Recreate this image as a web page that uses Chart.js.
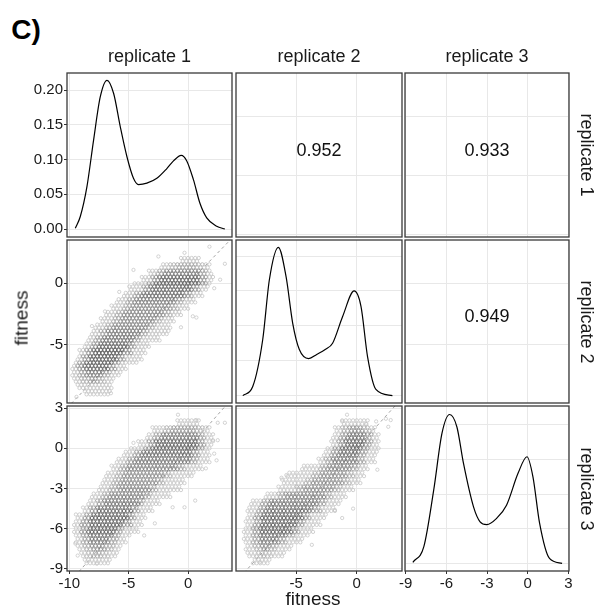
<!DOCTYPE html>
<html>
<head>
<meta charset="utf-8">
<script src="https://cdn.jsdelivr.net/npm/chart.js"></script>
<style>
  body { margin: 0; background: #fff; }
  #wrap { position: relative; width: 596px; height: 608px; overflow: hidden;
          font-family: "Liberation Sans", Arial, sans-serif; }
  #wrap canvas { position: absolute; }
  .lbl { position: absolute; color: #1a1a1a; white-space: nowrap; line-height: 1.2;
         transform: translate(-50%, -50%); }
</style>
</head>
<body>
<div id="wrap"></div>
<script>
// ---- data ----
var varNames = ['replicate 1', 'replicate 2', 'replicate 3'];
var corrLabels = { '0,1': '0.952', '0,2': '0.933', '1,2': '0.949' };

// axis ranges per variable (x direction for columns, y direction for rows)
var colRange = [[-10.2, 3.7], [-9.95, 3.73], [-9.05, 3.05]];
var rowRange = [[-10.2, 3.7], [-9.8, 3.55], [-9.15, 3.15]];
var densRange = [[-0.0115, 0.2245], [-0.0106, 0.2230], [-0.0111, 0.2273]];
var varTicks = [[-10, -5, 0], [-10, -5, 0], [-9, -6, -3, 0, 3]];
var densTicks = [0, 0.05, 0.10, 0.15, 0.20];

// density curves (x, density)
var dens1X = [-9.5, -9.08, -8.52, -7.96, -7.4, -6.83, -6.27, -5.71, -5.15, -4.6, -4.18, -3.47, -2.63, -1.79, -1.23, -0.58, -0.11, 0.45, 1.0, 1.57, 2.41, 3.1];
var dens1Y = [0.001, 0.018, 0.061, 0.128, 0.190, 0.214, 0.195, 0.147, 0.104, 0.073, 0.064, 0.066, 0.073, 0.087, 0.098, 0.106, 0.098, 0.071, 0.037, 0.016, 0.004, 0.0];
var dens2X = [-9.39, -8.57, -7.75, -7.2, -6.46, -5.82, -5.28, -4.73, -3.96, -3.3, -2.6, -1.99, -1.17, -0.21, 0.35, 0.89, 1.58, 2.94];
var dens2Y = [0.0, 0.013, 0.080, 0.166, 0.2124, 0.170, 0.104, 0.066, 0.053, 0.059, 0.066, 0.075, 0.113, 0.150, 0.128, 0.056, 0.009, 0.0];
var dens3X = [-8.47, -7.66, -6.93, -6.32, -5.76, -5.22, -4.73, -4.0, -3.51, -3.02, -2.29, -1.56, -0.71, -0.05, 0.39, 0.88, 1.61, 2.54];
var dens3Y = [0.0015, 0.024, 0.106, 0.188, 0.215, 0.197, 0.144, 0.082, 0.060, 0.056, 0.065, 0.084, 0.130, 0.154, 0.125, 0.058, 0.007, 0.0];

// hexbin clouds: [y, outerLeft, coreLeft, coreRight, outerRight, coreShade]
var bandA = [ // x = replicate 1, y = replicate 2
  [2.0, -0.6, null, null, 0.9, 0], [1.5, -2.3, -1.5, 1.2, 1.8, 0.4], [1.0, -3.3, -2.6, 1.5, 2.0, 0.7],
  [0.5, -3.9, -3.0, 1.6, 2.2, 0.9], [0.0, -4.6, -3.3, 1.5, 2.0, 1.0], [-0.5, -5.0, -3.8, 1.0, 1.7, 0.9],
  [-1.0, -5.5, -4.6, 0.4, 1.3, 0.8], [-1.5, -6.0, -5.2, -0.4, 0.6, 0.7], [-2.0, -6.5, -5.5, -0.8, 0.0, 0.6],
  [-2.5, -7.0, -6.0, -1.5, -0.6, 0.6], [-3.0, -7.4, -6.4, -2.2, -1.2, 0.6], [-3.5, -7.8, -6.9, -2.8, -1.5, 0.65],
  [-4.0, -8.2, -7.4, -3.4, -1.6, 0.7], [-4.5, -8.5, -7.8, -4.0, -2.4, 0.8], [-5.0, -8.8, -8.2, -4.4, -3.2, 0.9],
  [-5.5, -9.2, -8.6, -4.8, -3.6, 1.0], [-6.0, -9.4, -8.9, -5.3, -3.8, 1.0], [-6.5, -9.7, -9.2, -5.7, -4.3, 1.0],
  [-7.0, -9.8, -9.3, -6.1, -5.2, 0.9], [-7.5, -9.8, -9.2, -6.5, -5.7, 0.7], [-8.0, -9.7, -9.0, -6.9, -6.3, 0.5],
  [-8.5, -9.3, null, null, -6.4, 0], [-9.0, -8.8, null, null, -6.6, 0]
];
var bandB = [ // x = replicate 1, y = replicate 3
  [2.0, -1.0, null, null, 1.0, 0], [1.5, -3.0, -2.0, 1.2, 1.8, 0.5], [1.0, -3.5, -2.9, 1.4, 2.1, 0.8],
  [0.5, -4.2, -3.4, 1.4, 2.1, 1.0], [0.0, -4.8, -3.8, 1.3, 2.0, 1.0], [-0.5, -5.4, -4.6, 1.0, 1.9, 0.9],
  [-1.0, -6.0, -5.2, 0.8, 1.8, 0.8], [-1.5, -6.5, -5.7, -0.2, 1.2, 0.7], [-2.0, -7.0, -6.0, -1.5, 0.5, 0.6],
  [-2.5, -7.3, -6.4, -2.0, -0.3, 0.6], [-3.0, -7.6, -6.6, -2.6, -0.6, 0.65], [-3.5, -8.1, -7.3, -3.1, -1.5, 0.7],
  [-4.0, -8.5, -7.7, -3.6, -2.3, 0.8], [-4.5, -8.9, -8.3, -4.1, -3.0, 0.9], [-5.0, -9.5, -8.8, -4.4, -3.6, 1.0],
  [-5.5, -9.7, -9.0, -4.8, -3.9, 1.0], [-6.0, -9.7, -9.1, -5.4, -4.1, 1.0], [-6.5, -9.6, -9.0, -5.8, -4.8, 0.9],
  [-7.0, -9.5, -8.9, -6.0, -5.2, 0.8], [-7.5, -9.3, -8.8, -6.3, -5.7, 0.6], [-8.0, -9.1, -8.6, -6.7, -6.0, 0.4],
  [-8.5, -8.8, null, null, -6.5, 0]
];
var bandC = [ // x = replicate 2, y = replicate 3
  [2.0, -1.2, null, null, 1.0, 0], [1.5, -1.8, -1.2, 1.1, 1.6, 0.6], [1.0, -2.0, -1.4, 1.3, 1.8, 0.9],
  [0.5, -2.2, -1.6, 1.2, 1.9, 1.0], [0.0, -2.4, -1.8, 1.0, 1.9, 1.0], [-0.5, -2.8, -2.2, 0.8, 1.7, 0.9],
  [-1.0, -3.2, -2.6, 0.6, 1.5, 0.8], [-1.5, -4.5, -3.0, 0.2, 1.0, 0.7], [-2.0, -5.8, -3.6, -0.2, 0.6, 0.6],
  [-2.5, -6.2, -4.3, -0.6, 0.3, 0.6], [-3.0, -6.5, -5.0, -1.3, -0.3, 0.6], [-3.5, -7.6, -6.5, -2.0, -0.8, 0.7],
  [-4.0, -8.8, -7.8, -2.5, -1.3, 0.8], [-4.5, -9.0, -8.2, -3.0, -1.8, 0.9], [-5.0, -9.1, -8.4, -3.8, -2.5, 1.0],
  [-5.5, -9.2, -8.5, -4.3, -3.0, 1.0], [-6.0, -9.3, -8.6, -4.7, -3.5, 1.0], [-6.5, -9.4, -8.6, -5.2, -4.0, 0.9],
  [-7.0, -9.4, -8.6, -5.8, -4.4, 0.8], [-7.5, -9.2, -8.5, -6.5, -5.3, 0.6], [-8.0, -9.0, -8.3, -7.0, -6.0, 0.4],
  [-8.5, -8.6, null, null, -7.2, 0]
];
var outA = [[-2.5, 2.2], [-0.3, 2.5], [1.8, 3.0], [3.1, 1.6], [2.7, 0.3], [2.2, -0.4], [-4.6, 1.1], [-5.8, -0.7],
            [-8.1, -3.5], [-7.0, -2.3], [0.4, -2.7], [0.7, -2.8], [-0.6, -3.6], [-6.5, -9.0], [-9.4, -9.3]];
var outB = [[-0.85, 2.5], [0.7, 2.1], [2.5, 1.9], [3.1, 1.9], [2.5, 0.6], [2.1, 0.6], [2.2, -0.4], [2.4, -0.9],
            [1.5, -1.5], [0.6, -3.9], [-0.3, -4.4], [-1.3, -4.4], [-2.8, -5.6], [-3.7, -6.5], [-9.5, -7.1],
            [-9.3, -8.0], [-7.7, -8.6], [-4.6, 0.4]];
var outC = [[-0.8, 2.5], [-1.2, 2.0], [0.8, 1.8], [1.6, 2.0], [2.4, 2.2], [2.8, 2.1], [2.6, 1.6], [1.7, -1.6],
            [-0.3, -4.5], [-1.2, -5.2], [-1.8, -4.6], [-3.7, -7.2], [-8.0, -8.5], [-5.8, -2.0], [-6.2, -2.2]];

(function() {
  // ---- layout ----
  var PL = [67, 236, 405], PR = [232, 402, 569];
  var PT = [73, 240, 406], PB = [237, 403, 571];
  var M = 12;
  var HEX = 0.3;

  Chart.defaults.font.family = '"Liberation Sans", Arial, sans-serif';
  Chart.defaults.font.size = 15;
  Chart.defaults.color = '#1a1a1a';

  var panelBox = {
    id: 'panelBox',
    afterDraw: function(chart, args, opts) {
      var a = chart.chartArea, ctx = chart.ctx;
      ctx.save();
      if (opts.text) {
        ctx.fillStyle = '#111';
        ctx.font = '18px "Liberation Sans", Arial, sans-serif';
        ctx.textAlign = 'center';
        ctx.textBaseline = 'middle';
        ctx.fillText(opts.text, (a.left + a.right) / 2, (a.top + a.bottom) / 2 - 4);
      }
      ctx.strokeStyle = '#3a3a3a';
      ctx.lineWidth = 1.3;
      ctx.strokeRect(a.left, a.top, a.right - a.left, a.bottom - a.top);
      ctx.restore();
    }
  };

  function shadeOf(lvl) {
    var g = Math.round(200 - lvl * 140);
    return 'rgb(' + g + ',' + g + ',' + g + ')';
  }

  function hexPoints(band, outliers) {
    var dy = HEX * Math.sqrt(3) / 2;
    var pts = [];
    var ymax = band[0][0] + 0.25, ymin = band[band.length - 1][0] - 0.25;
    for (var j = Math.ceil(ymin / dy); j <= Math.floor(ymax / dy); j++) {
      var y = j * dy;
      var row = band[0];
      band.forEach(function(b) { if (Math.abs(b[0] - y) < Math.abs(row[0] - y)) row = b; });
      var off = (Math.abs(j) % 2) ? HEX / 2 : 0;
      for (var k = Math.ceil((row[1] - off) / HEX); k <= Math.floor((row[4] - off) / HEX); k++) {
        var x = k * HEX + off;
        var s = 0.08;
        if (row[2] !== null && x >= row[2] && x <= row[3]) {
          // bins next to the core edge get a middle shade
          var edge = Math.min(x - row[2], row[3] - x);
          s = edge < 2 * HEX ? (row[5] + 0.08) / 2 : row[5];
        }
        pts.push({ x: x, y: y, s: s });
      }
    }
    outliers.forEach(function(p) { pts.push({ x: p[0], y: p[1], s: 0.05 }); });
    return pts;
  }

  function pairs(xs, ys) {
    return xs.map(function(x, i) { return { x: x, y: ys[i] }; });
  }

  function axis(range, ticks, isDens, showTicks, size, horizontal) {
    return {
      type: 'linear',
      min: range[0], max: range[1],
      afterBuildTicks: function(s) {
        s.ticks = ticks.filter(function(v) { return v >= s.min && v <= s.max; })
                       .map(function(v) { return { value: v }; });
      },
      afterFit: function(s) {
        if (horizontal) s.height = size; else s.width = size;
        s.paddingLeft = 0; s.paddingRight = 0; s.paddingTop = 0; s.paddingBottom = 0;
      },
      grid: { color: '#e8e8e8', lineWidth: 1, drawTicks: showTicks, tickLength: 3, tickColor: '#333' },
      border: { display: false },
      ticks: {
        display: showTicks, padding: 1, autoSkip: false, maxRotation: 0,
        color: '#1a1a1a', font: { size: 15 },
        callback: function(v) { return isDens ? v.toFixed(2) : String(v); }
      }
    };
  }

  var wrap = document.getElementById('wrap');
  var bands = { '1,0': [bandA, outA], '2,0': [bandB, outB], '2,1': [bandC, outC] };
  var densSets = [pairs(dens1X, dens1Y), pairs(dens2X, dens2Y), pairs(dens3X, dens3Y)];

  for (var r = 0; r < 3; r++) {
    for (var c = 0; c < 3; c++) {
      var cLeft = c === 0 ? 0 : PL[c] - M;
      var cTop = PT[r] - M;
      var cRight = PR[c] + M;
      var cBottom = r === 2 ? 608 : PB[r] + M;
      var cv = document.createElement('canvas');
      cv.width = cRight - cLeft; cv.height = cBottom - cTop;
      cv.style.left = cLeft + 'px'; cv.style.top = cTop + 'px';
      wrap.appendChild(cv);

      var key = r + ',' + c;
      var datasets = [];
      var yRange = rowRange[r], yTicks = varTicks[r], isDens = false;
      if (r === c) {
        yRange = densRange[r]; yTicks = densTicks; isDens = true;
        datasets.push({ data: densSets[r], showLine: true, pointRadius: 0, borderColor: '#000',
                        borderWidth: 1.2, cubicInterpolationMode: 'monotone', clip: 0 });
      } else if (bands[key]) {
        var pts = hexPoints(bands[key][0], bands[key][1]);
        datasets.push({ data: pts, pointRadius: 1.65, borderWidth: 0.7, backgroundColor: 'rgba(0,0,0,0)',
                        pointBorderColor: pts.map(function(p) { return shadeOf(p.s); }), clip: 0 });
        var lo = Math.min(colRange[c][0], yRange[0]), hi = Math.max(colRange[c][1], yRange[1]);
        datasets.push({ data: [{ x: lo, y: lo }, { x: hi, y: hi }], showLine: true, pointRadius: 0,
                        borderColor: '#8c8c8c', borderWidth: 0.8, borderDash: [3, 3], clip: 0 });
      }

      new Chart(cv, {
        type: 'scatter',
        data: { datasets: datasets },
        plugins: [panelBox],
        options: {
          responsive: false, animation: false, events: [],
          layout: { padding: { left: c === 0 ? 0 : M, right: M, top: M, bottom: r === 2 ? 0 : M } },
          plugins: { legend: { display: false }, tooltip: { enabled: false },
                     panelBox: { text: corrLabels[key] || '' } },
          scales: {
            x: axis(colRange[c], varTicks[c], false, r === 2, r === 2 ? 608 - PB[2] : 0, true),
            y: axis(yRange, yTicks, isDens, c === 0, c === 0 ? PL[0] : 0, false)
          }
        }
      });
    }
  }

  // ---- text labels ----
  function label(text, x, y, size, extra) {
    var d = document.createElement('div');
    d.className = 'lbl';
    d.textContent = text;
    d.style.left = x + 'px'; d.style.top = y + 'px';
    d.style.fontSize = size + 'px';
    if (extra) d.style.transform = 'translate(-50%, -50%) ' + extra;
    wrap.appendChild(d);
    return d;
  }
  var cl = label('C)', 26, 29.5, 28); cl.style.fontWeight = 'bold'; cl.style.color = '#000';
  for (var i = 0; i < 3; i++) {
    label(varNames[i], (PL[i] + PR[i]) / 2, 56.5, 18);
    label(varNames[i], 586, (PT[i] + PB[i]) / 2, 18, 'rotate(90deg)');
  }
  label('fitness', 22, 317.5, 19, 'rotate(-90deg)');
  label('fitness', 313, 599, 19);
})();
</script>
</body>
</html>
